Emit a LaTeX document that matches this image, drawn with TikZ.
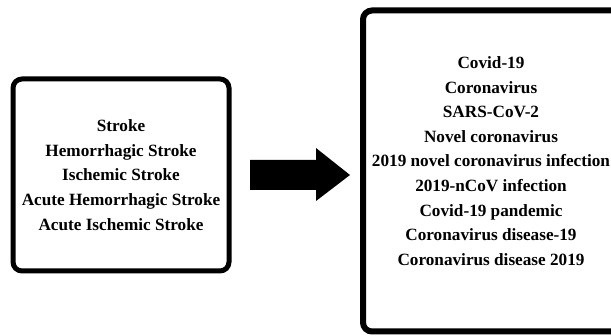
\documentclass[tikz,border=0pt]{standalone}
\usepackage{fontspec}
\setmainfont{Liberation Serif}
\usepackage{tikz}

\tikzset{
	termbox/.style={draw, line width=5pt, rounded corners=9pt, inner sep=0pt},
	termlist/.style={align=center, font=\fontsize{17.2}{24.6}\selectfont\bfseries}
}

\begin{document}
\begin{tikzpicture}[x=1pt, y=-1pt]
			\clip (0,0) rectangle (611,336);
			\fill[white] (0,0) rectangle (611,336);

			\node[termbox, minimum width=216pt, minimum height=192pt] (strokebox) at (121,175) {};
			\node[termlist] (stroke) at (strokebox.center) {Stroke\\Hemorrhagic Stroke\\Ischemic Stroke\\Acute Hemorrhagic Stroke\\Acute Ischemic Stroke};

			\node[termbox, line width=6pt, minimum width=268pt, minimum height=321pt] (covidbox) at (497,171) {};
			\node[termlist] (covid) at (491,161) {Covid-19\\Coronavirus\\SARS-CoV-2\\Novel coronavirus\\2019 novel coronavirus infection\\2019-nCoV infection\\Covid-19 pandemic\\Coronavirus disease-19\\Coronavirus disease 2019};

			\fill (250,160) -- (316,160) -- (316,148) -- (350,175) -- (316,201) -- (316,190) -- (250,190) -- cycle;
		\end{tikzpicture}
\end{document}
